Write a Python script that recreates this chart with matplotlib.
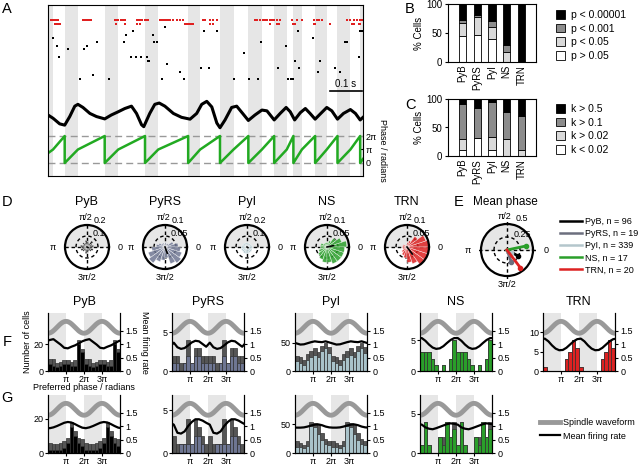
import numpy as np
import matplotlib
matplotlib.use('Agg')
import matplotlib.pyplot as plt
from matplotlib.patches import Patch
from matplotlib.lines import Line2D

plt.rcParams['font.family'] = ['Liberation Sans', 'DejaVu Sans']
plt.rcParams['font.size'] = 7

W, H = 640, 465
PI = np.pi
SHADE = '#e6e6e6'

# ---------------- data ----------------
cell_types = ['PyB', 'PyRS', 'PyI', 'NS', 'TRN']
cell_counts = [96, 19, 339, 17, 20]
type_colors = ['#000000', '#6e7692', '#a9c3ca', '#2a9f2a', '#dd2222']
legend_colors = ['#000000', '#6c6f7e', '#b4c6cc', '#2a9f2a', '#dd2222']

# panel A: example spindle (time in ms)
red_spikes_1 = [11, 16, 21, 27, 32, 111, 117, 122, 127, 133, 138, 212, 217, 223, 233, 239, 244,
                281, 286, 292, 297, 308, 313, 318, 355, 361, 366, 371, 376, 382, 387, 398, 408,
                419, 429, 493, 498, 514, 525, 536, 657, 663, 673, 684, 689, 695, 705, 711, 716,
                726, 737, 774, 790, 806, 843, 854, 859, 870, 949, 960, 970, 981, 991, 997]
red_spikes_2 = [21, 27, 32, 37, 217, 244, 281, 292, 435, 440, 446, 451, 456, 461, 514, 525, 705,
                726, 732, 779, 785, 843, 848, 896, 965, 970, 986, 991]
cell_spike_times = [16, 27, 35, 62, 101, 115, 125, 143, 157, 194, 241, 249, 270, 262, 278, 294,
                    313, 316, 320, 332, 336, 345, 363, 373, 379, 419, 433, 485, 495, 511, 536,
                    589, 622, 639, 666, 677, 730, 755, 761, 772, 779, 785, 793, 797, 840, 856,
                    862, 912, 928, 944, 949, 986, 991, 997]
cell_spike_rows = [3, 5, 8, 6, 14, 6, 5, 13, 4, 14, 4, 2, 1, 8, 8, 8,
                   8, 9, 9, 2, 4, 4, 14, 0, 10, 12, 14, 11, 1, 11, 1,
                   14, 7, 14, 14, 4, 11, 5, 14, 14, 14, 9, 1, 11, 3, 12,
                   9, 11, 12, 4, 4, 8, 1, 1]
lfp_times = [0, 16, 37, 53, 69, 85, 95, 111, 133, 154, 180, 201, 223, 244, 265, 281, 297, 304,
             323, 339, 353, 371, 398, 424, 451, 472, 488, 504, 520, 536, 546, 562, 583, 599,
             618, 636, 657, 679, 695, 718, 737, 756, 769, 783, 801, 817, 832, 848, 866, 885,
             901, 919, 938, 960, 976, 991, 1000]
lfp_values = [0, -0.25, -0.68, -0.78, -0.12, 0.68, 0.82, 0.58, 0.12, -0.12, -0.3, 0, 0.25, 0.5,
              0.68, 0.12, -0.75, -0.9, 0.12, 0.82, 0.92, 0.68, 0.12, -0.18, -0.32, 0.12, 0.82,
              1.05, 0.62, -0.62, -0.98, -0.38, 0.58, 0.68, 0.12, -0.42, 0, 0.38, 0.32, -0.38,
              0.12, 0.58, 0.25, -0.38, 0.18, 0.5, 0.12, -0.32, 0.12, 0.58, 0.32, -0.32, 0.12,
              0.42, 0.12, -0.38, -0.18]
peak_times = [16, 95, 223, 350, 483, 589, 679, 758, 806, 885, 960]      # phase = pi
trough_times = [53, 180, 308, 445, 546, 636, 718, 779, 848, 919, 991]  # phase = 0 / 2pi
phase_start = 0.73 * PI
phase_end = 0.3 * PI

# panel B: % cells by p value (stacked bottom to top)
p_labels = ['p > 0.05', 'p < 0.05', 'p < 0.001', 'p < 0.00001']
p_gt_005 = [44, 47, 39, 0, 0]
p_lt_005 = [23, 30, 22, 17.6, 0]
p_lt_0001 = [6, 4, 10, 11.8, 0]
p_lt_000001 = [27, 19, 29, 70.6, 100]

# panel C: % cells by k
k_labels = ['k < 0.02', 'k > 0.02', 'k > 0.1', 'k > 0.5']
k_lt_002 = [11, 31.6, 10.5, 0, 0]
k_gt_002 = [18, 0, 23.5, 29.4, 10]
k_gt_01 = [63, 52.6, 61, 47.1, 60]
k_gt_05 = [8, 15.8, 5, 23.5, 30]

# panel D: spike phase distributions (20 bins over 0..2pi)
rose_pyb = [0.06, 0.05, 0.07, 0.04, 0.05, 0.06, 0.04, 0.05, 0.04, 0.06,
            0.05, 0.06, 0.05, 0.04, 0.06, 0.05, 0.04, 0.05, 0.06, 0.05]
rose_pyrs = [0.06, 0.04, 0.02, 0.01, 0.02, 0.01, 0.02, 0.02, 0.03, 0.04,
             0.06, 0.08, 0.09, 0.07, 0.06, 0.05, 0.08, 0.09, 0.08, 0.07]
rose_pyi = [0.05, 0.045, 0.04, 0.04, 0.04, 0.04, 0.04, 0.045, 0.045, 0.05,
            0.05, 0.055, 0.055, 0.06, 0.06, 0.06, 0.055, 0.055, 0.05, 0.05]
rose_ns = [0.09, 0.07, 0.05, 0.03, 0.02, 0.02, 0.02, 0.02, 0.03, 0.03,
           0.03, 0.04, 0.05, 0.06, 0.07, 0.07, 0.08, 0.08, 0.08, 0.08]
rose_trn = [0.10, 0.09, 0.06, 0.03, 0.02, 0.01, 0.01, 0.01, 0.02, 0.02,
            0.02, 0.02, 0.03, 0.04, 0.05, 0.07, 0.08, 0.10, 0.11, 0.11]
rose_rmax = [0.2, 0.1, 0.2, 0.1, 0.1]
rose_vec_len = [0.01, 0.03, 0.01, 0.03, 0.04]

# panel E: mean phase (degrees) and resultant length
mean_phase_deg = [-28, -70, -35, 12, -53]
mean_phase_len = [0.23, 0.24, 0.1, 0.37, 0.43]

# panel F: preferred phase histograms (10 bins over 0..2pi), all cells / significant cells
f_all_pyb = [9, 9, 6, 7, 8, 8, 7, 8, 23, 16]
f_sig_pyb = [5, 4, 3, 4, 5, 5, 4, 4, 20, 14]
f_all_pyrs = [2, 2, 1, 1, 4, 1, 3, 3, 2, 2]
f_sig_pyrs = [1, 1, 0, 1, 2, 1, 2, 2, 1, 1]
f_all_pyi = [27, 25, 20, 30, 36, 40, 34, 45, 50, 42]
f_sig_pyi = [17, 14, 11, 19, 25, 28, 24, 35, 40, 32]
f_all_ns = [3, 3, 3, 2, 1, 0, 1, 0, 2, 5]
f_sig_ns = [3, 3, 3, 2, 1, 0, 1, 0, 2, 5]
f_all_trn = [1, 0, 0, 0, 0, 0, 3, 5, 8, 6]
f_sig_trn = [1, 0, 0, 0, 0, 0, 3, 5, 8, 6]
f_rate_pyb = [1.15, 1.18, 1.08, 0.98, 0.86, 0.84, 0.9, 0.95, 1.02, 1.1]
f_rate_pyrs = [1.05, 0.88, 0.82, 0.85, 0.95, 1.06, 1.12, 1.1, 1.0, 0.9]
f_rate_pyi = [1.02, 0.98, 0.99, 1.03, 1.07, 1.1, 1.08, 1.07, 1.1, 1.06]
f_rate_ns = [1.22, 1.12, 0.98, 0.87, 0.82, 0.84, 0.92, 1.04, 1.15, 1.22]
f_rate_trn = [1.2, 1.1, 0.95, 0.83, 0.77, 0.78, 0.86, 0.98, 1.1, 1.18]

# panel G
g_all_pyb = [6, 5, 5, 6, 7, 9, 18, 13, 9, 8]
g_sig_pyb = [2, 2, 2, 2, 3, 6, 15, 10, 6, 4]
g_all_pyrs = [2, 1, 1, 1, 4, 1, 4, 3, 2, 1]
g_sig_pyrs = [0, 0, 1, 1, 1, 1, 2, 2, 1, 0]
g_all_pyi = [20, 18, 14, 20, 53, 52, 48, 35, 25, 20]
g_sig_pyi = [11, 10, 8, 12, 47, 44, 32, 23, 16, 13]
g_all_ns = [1, 4, 1, 0, 0, 2, 2, 4, 2, 4]
g_sig_ns = [1, 4, 1, 0, 0, 2, 1, 4, 2, 3]
g_rate_pyb = [0.92, 0.95, 1.0, 1.06, 1.12, 1.15, 1.13, 1.07, 1.0, 0.94]
g_rate_pyrs = [1.05, 0.75, 0.72, 0.8, 1.0, 1.15, 1.25, 1.25, 1.2, 1.12]
g_rate_pyi = [0.94, 0.94, 0.95, 0.98, 1.02, 1.05, 1.06, 1.03, 0.98, 0.95]
g_rate_ns = [1.05, 0.95, 0.9, 0.88, 0.92, 0.97, 1.02, 1.07, 1.1, 1.08]


def rect(x0, y0, x1, y1):
    # pixel box -> figure fraction
    return [x0 / W, 1 - y1 / H, (x1 - x0) / W, (y1 - y0) / H]


def label(x, y, s, **kw):
    fig.text(x / W, 1 - y / H, s, **kw)


fig = plt.figure(figsize=(6.4, 4.65), dpi=100)

# ---------------- A ----------------
axA = fig.add_axes(rect(48, 5, 363, 176))
axA.set_xlim(0, 1000)
axA.set_ylim(171, 0)
for s0, s1 in zip([0] + trough_times, peak_times + [1000]):
    axA.axvspan(s0, s1, color=SHADE, lw=0, zorder=0)

axA.plot(red_spikes_1, [15] * len(red_spikes_1), 's', color='#e02020', ms=1.6, mew=0)
axA.plot(red_spikes_2, [19] * len(red_spikes_2), 's', color='#e02020', ms=1.6, mew=0)
axA.plot(cell_spike_times, 22.3 + 3.7 * np.array(cell_spike_rows), 's', color='k', ms=1.6, mew=0)

axA.plot(lfp_times, 110 - 13 * np.array(lfp_values), color='k', lw=2.2)

# phase sawtooth
ph_t = [0]
ph_v = [phase_start]
for pk, tr in zip(peak_times, trough_times):
    ph_t += [pk, tr, tr]
    ph_v += [PI, 2 * PI, 0]
ph_t.append(1000)
ph_v.append(phase_end)
ph_y = 158 - np.array(ph_v) / (2 * PI) * 27
axA.axhline(158, color='#999999', ls=(0, (5, 3)), lw=1)
axA.axhline(131, color='#999999', ls=(0, (5, 3)), lw=1)
axA.plot(ph_t, ph_y, color='#22aa22', lw=1.8)

# scale bar
axA.plot([896, 997], [86, 86], color='k', lw=1.2)
axA.text(946, 84, '0.1 s', ha='center', va='bottom', fontsize=7)

axA.set_xticks([])
axA.yaxis.tick_right()
axA.set_yticks([158, 144.5, 131])
axA.set_yticklabels(['0', 'π', '2π'])
axA.tick_params(axis='y', direction='in', length=2, labelsize=6.5, pad=2)
for sp in axA.spines.values():
    sp.set_linewidth(0.8)
label(382, 150, 'Phase / radians', rotation=270, ha='center', va='center', fontsize=6.5)

# ---------------- B and C ----------------
stack_colors = ['white', '#d9d9d9', '#8c8c8c', 'black']


def stacked(box, layers, names, leg_x, leg_y):
    ax = fig.add_axes(rect(*box))
    x = np.arange(1, 6)
    bottom = np.zeros(5)
    for vals, c in zip(layers, stack_colors):
        ax.bar(x, vals, 0.5, bottom=bottom, color=c, edgecolor='k', lw=0.6)
        bottom += np.array(vals)
    ax.set_xlim(0, 6)
    ax.set_ylim(0, 100)
    ax.set_yticks([0, 50, 100])
    ax.set_xticks(x)
    ax.set_xticklabels(cell_types, rotation=90, fontsize=7)
    ax.tick_params(axis='x', length=0, pad=2)
    ax.tick_params(axis='y', length=2, labelsize=7, pad=2)
    ax.set_ylabel('% Cells', fontsize=7, labelpad=2)
    handles = [Patch(facecolor=c, edgecolor='k', lw=0.6) for c in stack_colors][::-1]
    ax.legend(handles, names[::-1], loc='upper left', bbox_to_anchor=(leg_x / W, 1 - leg_y / H),
              bbox_transform=fig.transFigure, frameon=False, fontsize=7.5, handlelength=0.9,
              handleheight=0.9, labelspacing=0.35, handletextpad=0.5, borderaxespad=0, borderpad=0)
    return ax


stacked((448, 4, 536, 62), [p_gt_005, p_lt_005, p_lt_0001, p_lt_000001], p_labels, 556, 10)
stacked((448, 99, 536, 156), [k_lt_002, k_gt_002, k_gt_01, k_gt_05], k_labels, 556, 104)


# ---------------- D and E ----------------
def polar_panel(cx, cy, r_px, rmax, outer_txt, inner_txt):
    ax = fig.add_axes(rect(cx - r_px, cy - r_px, cx + r_px, cy + r_px), projection='polar')
    ax.set_ylim(0, rmax)
    ax.set_xticks([])
    ax.set_yticks([])
    ax.grid(False)
    ax.spines['polar'].set_linewidth(1.6)
    th = np.linspace(0, PI, 100)
    ax.fill_between(th, 0, rmax, color=SHADE, lw=0, zorder=0)
    circ = np.linspace(0, 2 * PI, 200)
    ax.plot(circ, np.full_like(circ, rmax / 2), color='k', ls=(0, (2.5, 2)), lw=1, zorder=1)
    for a in [0, PI / 2, PI, 3 * PI / 2]:
        ax.plot([a, a], [0, rmax * 1.12], color='k', ls=(0, (2.5, 2)), lw=1, clip_on=False, zorder=1)
    ax.text(0.46, 1.06, 'π/2', transform=ax.transAxes, ha='center', va='bottom', fontsize=6.5)
    ax.text(0.66, 1.01, outer_txt, transform=ax.transAxes, ha='left', va='bottom', fontsize=6.5)
    ax.text(0.62, 0.80, inner_txt, transform=ax.transAxes, ha='left', va='center', fontsize=6.5)
    ax.text(1.2, 0.5, '0', transform=ax.transAxes, ha='left', va='center', fontsize=6.5)
    ax.text(-0.2, 0.5, 'π', transform=ax.transAxes, ha='right', va='center', fontsize=6.5)
    ax.text(0.5, -0.08, '3π/2', transform=ax.transAxes, ha='center', va='top', fontsize=6.5)
    return ax


roses = [rose_pyb, rose_pyrs, rose_pyi, rose_ns, rose_trn]
rose_theta = (np.arange(20) + 0.5) * 2 * PI / 20
d_centers = [87, 165, 247, 327, 407]
for i in range(5):
    rmax = rose_rmax[i]
    ax = polar_panel(d_centers[i], 247, 22, rmax, f'{rmax:g}', f'{rmax / 2:g}')
    ax.bar(rose_theta, roses[i], width=2 * PI / 20, color=type_colors[i],
           edgecolor='white', lw=0.3, alpha=0.85, zorder=2)
    ang = np.deg2rad(mean_phase_deg[i])
    ax.plot([ang, ang], [0, rose_vec_len[i]], color='k', lw=1.2, zorder=3)
    label(d_centers[i], 202, cell_types[i], ha='center', va='center', fontsize=9)

axE = polar_panel(507, 250, 26, 0.5, '0.5', '0.25')
for i in range(5):
    ang = np.deg2rad(mean_phase_deg[i])
    axE.plot([ang, ang], [0, mean_phase_len[i]], color=legend_colors[i], lw=2, zorder=3)
    axE.plot([ang], [mean_phase_len[i]], 'o', color=legend_colors[i], ms=3, zorder=3)
axE.legend([Line2D([], [], color=c, lw=1.8) for c in legend_colors],
           [f'{n}, n = {c}' for n, c in zip(cell_types, cell_counts)],
           loc='upper left', bbox_to_anchor=(560 / W, 1 - 217 / H), bbox_transform=fig.transFigure,
           frameon=False, fontsize=6.5, handlelength=2.4, labelspacing=0.35,
           handletextpad=0.4, borderaxespad=0, borderpad=0)
label(473, 202, 'Mean phase', ha='left', va='center', fontsize=8.5)


# ---------------- F and G ----------------
def phase_hist(x0, y0, all_c, sig_c, color, rate, ymax, yticks):
    ax = fig.add_axes(rect(x0, y0, x0 + 72, y0 + 58))
    centers = (np.arange(20) + 0.5) * PI / 5
    ax.axvspan(0, PI, color=SHADE, lw=0, zorder=0)
    ax.axvspan(2 * PI, 3 * PI, color=SHADE, lw=0, zorder=0)
    ax.bar(centers, np.tile(all_c, 2), PI / 5, color='#555555', edgecolor='#333333', lw=0.5)
    ax.bar(centers, np.tile(sig_c, 2), PI / 5, color=color, edgecolor='#333333', lw=0.5)
    ax.set_xlim(0, 4 * PI)
    ax.set_ylim(0, ymax)
    ax.set_yticks(yticks)
    ax.set_xticks([PI, 2 * PI, 3 * PI])
    ax.set_xticklabels(['π', '2π', '3π'])
    ax.tick_params(length=2, labelsize=6.5, pad=1)
    ax.spines['top'].set_visible(False)
    ax2 = ax.twinx()
    ax2.set_ylim(0, 2.15)
    ax2.set_yticks([0, 0.5, 1, 1.5])
    ax2.set_yticklabels(['0', '0.5', '1', '1.5'])
    ax2.tick_params(length=2, labelsize=6.5, pad=2)
    ax2.spines['top'].set_visible(False)
    xw = np.linspace(0, 4 * PI, 200)
    ax2.plot(xw, 1.62 - 0.22 * np.cos(xw), color='#999999', lw=3.5)
    idx = np.arange(-1, 21)
    ax2.plot((idx + 0.5) * PI / 5, np.array(rate)[idx % 10], color='k', lw=1.6)
    return ax


lefts = [48, 172, 295, 420, 543]
f_all = [f_all_pyb, f_all_pyrs, f_all_pyi, f_all_ns, f_all_trn]
f_sig = [f_sig_pyb, f_sig_pyrs, f_sig_pyi, f_sig_ns, f_sig_trn]
f_rate = [f_rate_pyb, f_rate_pyrs, f_rate_pyi, f_rate_ns, f_rate_trn]
f_ymax = [43, 7.5, 103, 9.4, 15]
f_ticks = [[0, 20], [0, 5], [0, 50], [0, 5], [0, 5, 10]]
for i in range(5):
    phase_hist(lefts[i], 313, f_all[i], f_sig[i], type_colors[i], f_rate[i], f_ymax[i], f_ticks[i])
    label(lefts[i] + 36, 302, cell_types[i], ha='center', va='center', fontsize=9)

g_all = [g_all_pyb, g_all_pyrs, g_all_pyi, g_all_ns]
g_sig = [g_sig_pyb, g_sig_pyrs, g_sig_pyi, g_sig_ns]
g_rate = [g_rate_pyb, g_rate_pyrs, g_rate_pyi, g_rate_ns]
g_ymax = [34, 6.8, 100, 7.4]
g_ticks = [[0, 20], [0, 5], [0, 50], [0, 5]]
for i in range(4):
    phase_hist(lefts[i], 395, g_all[i], g_sig[i], type_colors[i], g_rate[i], g_ymax[i], g_ticks[i])

label(27, 342, 'Number of cells', rotation=90, ha='center', va='center', fontsize=6.5)
label(145, 342, 'Mean firing rate', rotation=270, ha='center', va='center', fontsize=6.5)
label(84, 388, 'Preferred phase / radians', ha='center', va='center', fontsize=6.5)

fig.legend([Line2D([], [], color='#999999', lw=3.5), Line2D([], [], color='k', lw=1.6)],
           ['Spindle waveform', 'Mean firing rate'], loc='upper left',
           bbox_to_anchor=(540 / W, 1 - 418 / H), frameon=False, fontsize=6.5,
           handlelength=2.2, labelspacing=0.5, handletextpad=0.4, borderaxespad=0, borderpad=0)

# panel letters
for x, y, s in [(7, 9, 'A'), (410, 9, 'B'), (410, 105, 'C'), (7, 202, 'D'),
                (459, 202, 'E'), (7, 342, 'F'), (7, 398, 'G')]:
    label(x, y, s, ha='center', va='center', fontsize=10.5)

fig.savefig('out.png', dpi=100)
